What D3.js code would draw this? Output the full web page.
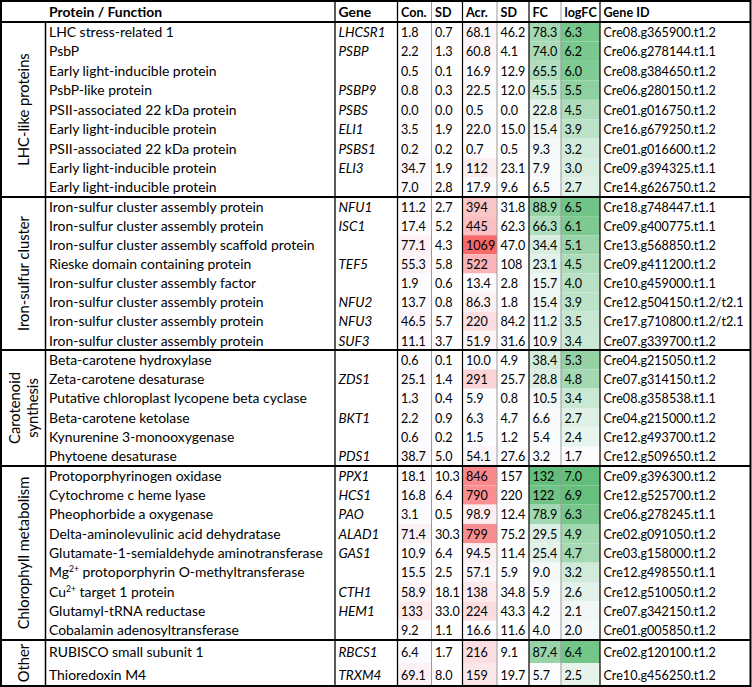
<!DOCTYPE html>
<html><head><meta charset="utf-8">
<script src="https://cdn.jsdelivr.net/npm/d3@7"></script>
<style>body{margin:0;background:#fff}</style>
</head><body><svg id="c" width="752" height="687"></svg>
<script>
// ---------------- DATA ----------------
const headers = ["Protein / Function","Gene","Con.","SD","Acr.","SD","FC","logFC","Gene ID"];
const groups = ["LHC-like proteins","Iron-sulfur cluster","Carotenoid|synthesis","Chlorophyll metabolism","Other"];
const groupSizes = [9, 8, 6, 9, 2];
const proteins = [
 "LHC stress-related 1","PsbP","Early light-inducible protein","PsbP-like protein","PSII-associated 22 kDa protein",
 "Early light-inducible protein","PSII-associated 22 kDa protein","Early light-inducible protein","Early light-inducible protein",
 "Iron-sulfur cluster assembly protein","Iron-sulfur cluster assembly protein","Iron-sulfur cluster assembly scaffold protein",
 "Rieske domain containing protein","Iron-sulfur cluster assembly factor","Iron-sulfur cluster assembly protein",
 "Iron-sulfur cluster assembly protein","Iron-sulfur cluster assembly protein",
 "Beta-carotene hydroxylase","Zeta-carotene desaturase","Putative chloroplast lycopene beta cyclase","Beta-carotene ketolase",
 "Kynurenine 3-monooxygenase","Phytoene desaturase",
 "Protoporphyrinogen oxidase","Cytochrome c heme lyase","Pheophorbide a oxygenase","Delta-aminolevulinic acid dehydratase",
 "Glutamate-1-semialdehyde aminotransferase","Mg^{2+} protoporphyrin O-methyltransferase","Cu^{2+} target 1 protein",
 "Glutamyl-tRNA reductase","Cobalamin adenosyltransferase",
 "RUBISCO small subunit 1","Thioredoxin M4"];
const genes = ["LHCSR1","PSBP","","PSBP9","PSBS","ELI1","PSBS1","ELI3","",
 "NFU1","ISC1","","TEF5","","NFU2","NFU3","SUF3",
 "","ZDS1","","BKT1","","PDS1",
 "PPX1","HCS1","PAO","ALAD1","GAS1","","CTH1","HEM1","",
 "RBCS1","TRXM4"];
const conMean = [1.8,2.2,0.5,0.8,0.0,3.5,0.2,34.7,7.0, 11.2,17.4,77.1,55.3,1.9,13.7,46.5,11.1, 0.6,25.1,1.3,2.2,0.6,38.7, 18.1,16.8,3.1,71.4,10.9,15.5,58.9,133,9.2, 6.4,69.1];
const conSD = [0.7,1.3,0.1,0.3,0.0,1.9,0.2,1.9,2.8, 2.7,5.2,4.3,5.8,0.6,0.8,5.7,3.7, 0.1,1.4,0.4,0.9,0.2,5.0, 10.3,6.4,0.5,30.3,6.4,2.5,18.1,33.0,1.1, 1.7,8.0];
const acrMean = [68.1,60.8,16.9,22.5,0.5,22.0,0.7,112,17.9, 394,445,1069,522,13.4,86.3,220,51.9, 10.0,291,5.9,6.3,1.5,54.1, 846,790,98.9,799,94.5,57.1,138,224,16.6, 216,159];
const acrSD = [46.2,4.1,12.9,12.0,0.0,15.0,0.5,23.1,9.6, 31.8,62.3,47.0,108,2.8,1.8,84.2,31.6, 4.9,25.7,0.8,4.7,1.2,27.6, 157,220,12.4,75.2,11.4,5.9,34.8,43.3,11.6, 9.1,19.7];
const foldChange = [78.3,74.0,65.5,45.5,22.8,15.4,9.3,7.9,6.5, 88.9,66.3,34.4,23.1,15.7,15.4,11.2,10.9, 38.4,28.8,10.5,6.6,5.4,3.2, 132,122,78.9,29.5,25.4,9.0,5.9,4.2,4.0, 87.4,5.7];
const logFC = [6.3,6.2,6.0,5.5,4.5,3.9,3.2,3.0,2.7, 6.5,6.1,5.1,4.5,4.0,3.9,3.5,3.4, 5.3,4.8,3.4,2.7,2.4,1.7, 7.0,6.9,6.3,4.9,4.7,3.2,2.6,2.1,2.0, 6.4,2.5];
const geneIds = ["Cre08.g365900.t1.2","Cre06.g278144.t1.1","Cre08.g384650.t1.2","Cre06.g280150.t1.2","Cre01.g016750.t1.2",
 "Cre16.g679250.t1.2","Cre01.g016600.t1.2","Cre09.g394325.t1.1","Cre14.g626750.t1.2",
 "Cre18.g748447.t1.1","Cre09.g400775.t1.1","Cre13.g568850.t1.2","Cre09.g411200.t1.2","Cre10.g459000.t1.1",
 "Cre12.g504150.t1.2/t2.1","Cre17.g710800.t1.2/t2.1","Cre07.g339700.t1.2",
 "Cre04.g215050.t1.2","Cre07.g314150.t1.2","Cre08.g358538.t1.1","Cre04.g215000.t1.2","Cre12.g493700.t1.2","Cre12.g509650.t1.2",
 "Cre09.g396300.t1.2","Cre12.g525700.t1.2","Cre06.g278245.t1.1","Cre02.g091050.t1.2","Cre03.g158000.t1.2",
 "Cre12.g498550.t1.1","Cre12.g510050.t1.2","Cre07.g342150.t1.2","Cre01.g005850.t1.2",
 "Cre02.g120100.t1.2","Cre10.g456250.t1.2"];

// ---------------- LAYOUT ----------------
const W = 752, H = 687;
const FONT = "Lato, 'Open Sans', sans-serif";
const colKeys = ["grp","protein","gene","con","conSD","acr","acrSD","fc","logfc","id","end"];
const x = d3.scaleOrdinal().domain(colKeys).range([1,45.5,335,397.5,431.5,462.5,497,529,561,600,750.5]);
const nextKey = k => colKeys[colKeys.indexOf(k)+1];
const bounds = [0, ...d3.cumsum(groupSizes)];
const y = d3.scaleLinear().domain(bounds).range([22,197,350,466,640,686]);
const headerTop = 1, headerBottom = 22;

const svg = d3.select("#c");
svg.append("rect").attr("width",W).attr("height",H).attr("fill","#fff");

function measure(str, size, weight){
  const t = svg.append("text").attr("font-family",FONT).attr("font-size",size).attr("font-weight",weight||400).text(str);
  const w = t.node().getComputedTextLength(); t.remove(); return w;
}
const fs = 100*274/measure("Glutamate-1-semialdehyde aminotransferase",100);
const sxNum = 140/measure("Cre12.g504150.t1.2/t2.1", fs);
const gfs = 100*115/measure("Iron-sulfur cluster",100);

const fmt = v => v >= 100 ? d3.format(".0f")(v) : d3.format(".1f")(v);
const redScale = d3.scaleLinear().domain(d3.extent(conMean.concat(acrMean))).range(["#FCFCFF","#F8696B"]);
const fcScale = d3.scaleLinear().domain(d3.extent(foldChange)).range(["#FCFCFF","#63BE7B"]);
const lfcScale = d3.scaleLinear().domain(d3.extent(logFC)).range(["#FCFCFF","#63BE7B"]);

const rows = proteins.map((p,i)=>({i, p, gene:genes[i], con:conMean[i], conSD:conSD[i], acr:acrMean[i], acrSD:acrSD[i], fc:foldChange[i], logfc:logFC[i], id:geneIds[i]}));

// fills
const fills = [["con", d=>redScale(d.con)],["acr", d=>redScale(d.acr)],["fc", d=>fcScale(d.fc)],["logfc", d=>lfcScale(d.logfc)]];
fills.forEach(([k,f])=>{
  svg.append("g").selectAll("rect").data(rows).join("rect")
    .attr("x", x(k)).attr("width", x(nextKey(k))-x(k))
    .attr("y", d=>y(d.i)).attr("height", d=>y(d.i+1)-y(d.i))
    .attr("fill", f);
});

function put(g, px, py, str, sx){
  return g.append("text").attr("transform", `translate(${px},${py}) scale(${sx||1},1)`).text(str);
}

// header text
const hdrKeys = ["protein","gene","con","conSD","acr","acrSD","fc","logfc","id"];
const hg = svg.append("g").attr("font-family",FONT).attr("font-size",fs).attr("font-weight",700).attr("fill","#000");
headers.forEach((h,i)=> put(hg, x(hdrKeys[i])+3.5, headerBottom-5, h, i>=2 ? sxNum : 1));

// body text
const tg = svg.append("g").attr("font-family",FONT).attr("font-size",fs).attr("fill","#000");
const baseY = d => (y(d.i)+y(d.i+1))/2 + fs*0.37;
rows.forEach(d=>{
  const t = tg.append("text").attr("x", x("protein")+3.5).attr("y", baseY(d));
  const parts = d.p.split(/\^\{(.*?)\}/);
  parts.forEach((s,j)=>{
    if (!s) return;
    if (j%2===1) t.append("tspan").attr("font-size",fs*0.62).attr("dy",-fs*0.38).text(s);
    else t.append("tspan").attr("dy", j>0 ? fs*0.38 : 0).text(s);
  });
  put(tg, x("gene")+3.5, baseY(d), d.gene, 0.97).attr("font-style","italic");
  [["con",fmt(d.con)],["conSD",fmt(d.conSD)],["acr",fmt(d.acr)],["acrSD",fmt(d.acrSD)],["fc",fmt(d.fc)],["logfc",d3.format(".1f")(d.logfc)],["id",d.id]]
    .forEach(([k,s])=> put(tg, x(k)+3.5, baseY(d), s, sxNum));
});

// group labels
groups.forEach((g,gi)=>{
  const cy = (y(bounds[gi])+y(bounds[gi+1]))/2;
  const cx = (x("grp")+x("protein"))/2;
  const lines = g.split("|");
  const t = svg.append("text").attr("transform",`translate(${cx},${cy}) rotate(-90)`)
    .attr("font-family",FONT).attr("font-size",gfs).attr("text-anchor","middle").attr("fill","#000");
  lines.forEach((s,li)=>{
    t.append("tspan").attr("x",0).attr("y",(li-(lines.length-1)/2)*gfs*1.25).attr("dominant-baseline","central").text(s);
  });
});

// grid lines
const vlines = [
  {k:"protein", top:headerBottom, c:"#000", w:1.5},
  {k:"gene", top:headerTop, c:"#000", w:1.3},
  {k:"con", top:headerTop, c:"#000", w:1.3},
  {k:"conSD", top:headerTop, c:"#9a9a9a", w:1},
  {k:"acr", top:headerTop, c:"#000", w:1.2},
  {k:"acrSD", top:headerTop, c:"#9a9a9a", w:1},
  {k:"fc", top:headerTop, c:"#000", w:1.2},
  {k:"logfc", top:headerTop, c:"#9a9a9a", w:1},
  {k:"id", top:headerTop, c:"#000", w:1.2}
];
svg.append("g").selectAll("line").data(vlines).join("line")
  .attr("x1",d=>x(d.k)).attr("x2",d=>x(d.k)).attr("y1",d=>d.top).attr("y2",y(bounds[bounds.length-1]))
  .attr("stroke",d=>d.c).attr("stroke-width",d=>d.w);
const hl = [headerBottom, ...bounds.slice(1,-1).map(b=>y(b))];
svg.append("g").selectAll("line").data(hl).join("line")
  .attr("x1",x("grp")).attr("x2",x("end")).attr("y1",d=>d).attr("y2",d=>d)
  .attr("stroke","#000").attr("stroke-width",2);
svg.append("rect").attr("x",x("grp")).attr("y",headerTop).attr("width",x("end")-x("grp")).attr("height",y(bounds[bounds.length-1])-headerTop)
  .attr("fill","none").attr("stroke","#000").attr("stroke-width",2);
</script></body></html>
